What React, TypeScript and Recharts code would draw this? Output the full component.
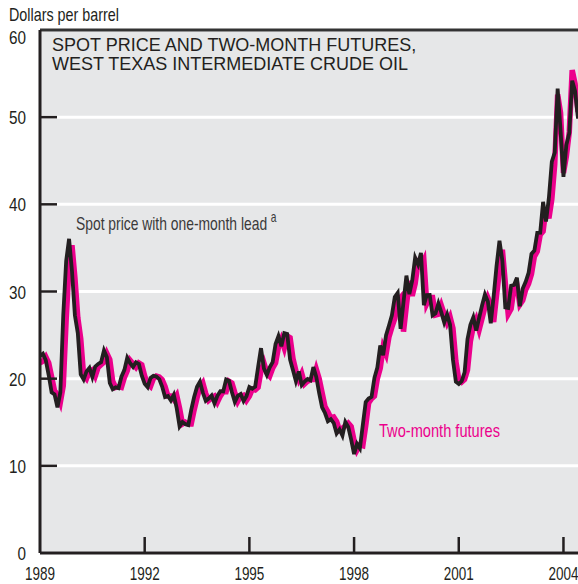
import React from 'react'
import { LineChart, Line, XAxis, YAxis, CartesianGrid, ReferenceLine } from 'recharts'

// month 0 sits on the left edge, one step per month, ticks every 3 years
const yearTicks = [0, 36, 72, 108, 144, 180]
const yearLabels = ['1989', '1992', '1995', '1998', '2001', '2004']
const valueTicks = [0, 10, 20, 30, 40, 50, 60]

// spot price with one-month lead, dollars per barrel
const spot = [
  22.6,
  22.86, 22.11, 20.39, 18.43, 18.2, 16.7, 18.45, 27.31, 33.51, 36.04, 32.33, 27.28,
  25.23, 20.48, 19.9, 20.83, 21.23, 20.19, 21.4, 21.69, 21.89, 23.23, 22.46, 19.5,
  18.79, 19.01, 18.92, 20.23, 20.98, 22.39, 21.78, 21.34, 21.88, 21.69, 20.34, 19.41,
  19.03, 20.09, 20.32, 20.25, 19.95, 19.09, 17.89, 18.01, 17.5, 18.15, 16.61, 14.52,
  15.03, 14.78, 14.68, 16.42, 17.89, 19.06, 19.65, 18.38, 17.45, 17.72, 18.07, 17.16,
  18.04, 18.57, 18.54, 19.9, 19.74, 18.45, 17.33, 18.02, 18.23, 17.43, 17.99, 19.03,
  18.85, 19.09, 21.33, 23.5, 21.17, 20.42, 21.3, 21.9, 23.97, 24.88, 23.71, 25.23,
  25.13, 22.18, 20.97, 19.7, 20.82, 19.26, 19.66, 19.95, 19.8, 21.33, 20.19, 18.33,
  16.72, 16.06, 15.12, 15.35, 14.91, 13.72, 14.17, 13.47, 15.03, 14.46, 13.0, 11.35,
  12.52, 12.01, 14.68, 17.31, 17.72, 17.92, 20.1, 21.28, 23.8, 22.69, 25.0, 26.1,
  27.26, 29.37, 29.84, 25.72, 28.79, 31.82, 29.7, 31.26, 33.88, 33.11, 34.42, 28.44,
  29.59, 29.61, 27.25, 27.49, 28.63, 27.6, 26.43, 27.37, 26.2, 22.17, 19.64, 19.39,
  19.72, 20.72, 24.53, 26.18, 27.04, 25.52, 26.97, 28.39, 29.66, 28.84, 26.35, 29.46,
  32.95, 35.83, 33.51, 28.17, 28.11, 30.66, 30.75, 31.57, 28.31, 30.34, 31.11, 32.13,
  34.31, 34.69, 36.74, 36.75, 40.28, 38.03, 40.78, 44.9, 45.94, 53.28, 48.47, 43.15,
  46.84, 48.15, 54.19, 52.98, 49.83,
]

// two-month futures
const futures = [
  21.8,
  22.0, 22.5, 21.8, 20.2, 18.6, 18.2, 17.3, 19.2, 26.8, 33.0, 35.3, 31.6,
  27.0, 24.6, 20.4, 20.0, 20.8, 21.0, 20.3, 21.3, 21.6, 21.9, 22.9, 22.2,
  19.7, 19.0, 19.1, 19.0, 20.1, 20.9, 22.1, 21.7, 21.3, 21.8, 21.6, 20.3,
  19.4, 19.1, 20.0, 20.3, 20.2, 19.9, 19.1, 18.0, 18.0, 17.6, 18.1, 16.6,
  14.8, 15.0, 14.8, 14.8, 16.4, 17.8, 19.0, 19.5, 18.3, 17.5, 17.8, 18.0,
  17.3, 18.0, 18.5, 18.5, 19.7, 19.5, 18.4, 17.4, 18.0, 18.1, 17.5, 18.0,
  18.8, 18.7, 19.0, 20.9, 21.8, 20.7, 20.3, 21.2, 21.8, 23.6, 24.5, 23.5,
  24.9, 24.7, 22.3, 20.9, 19.9, 20.6, 19.4, 19.7, 19.9, 19.9, 21.1, 20.0,
  18.4, 16.8, 16.2, 15.5, 15.6, 15.1, 14.1, 14.3, 14.6, 14.9, 14.5, 12.9,
  11.8, 12.4, 12.3, 14.6, 17.2, 17.7, 18.0, 20.0, 21.2, 23.6, 22.8, 24.8,
  25.9, 26.9, 28.9, 29.3, 25.4, 28.4, 31.2, 29.5, 30.9, 33.3, 32.9, 33.6,
  28.6, 29.3, 29.3, 27.3, 27.4, 28.4, 27.4, 26.4, 27.1, 25.8, 22.0, 19.9,
  19.6, 19.9, 21.0, 24.3, 26.0, 26.8, 25.6, 26.9, 28.2, 29.3, 28.5, 26.5,
  29.6, 32.4, 34.8, 31.0, 27.4, 28.0, 30.4, 30.7, 28.5, 29.0, 30.2, 30.9,
  32.0, 34.0, 34.6, 36.5, 36.9, 39.6, 38.4, 40.6, 44.6, 52.6, 50.5, 43.6,
  45.5, 48.3, 55.4, 53.8, 50.6,
]

const data = spot.map((v, i) => ({ month: i, spot: v, futures: futures[i] }))

const ink = '#231f20'
const pink = '#ec008c'
const font = "'Liberation Sans', Arial, Helvetica, sans-serif"
const PLOT_LEFT = 40
const PLOT_BOTTOM = 553

// squeezed sans to stand in for a condensed face
function Cond({ x, y, w, anchor = 'start', fill = ink, size = 19, children }: any) {
  return (
    <text
      x={x}
      y={y}
      textAnchor={anchor}
      fontSize={size}
      fontFamily={font}
      fill={fill}
      textLength={w}
      lengthAdjust="spacingAndGlyphs"
    >
      {children}
    </text>
  )
}

function ValueTick(props: any) {
  const { y, payload } = props
  const v = payload.value
  return (
    <g>
      <Cond x={26} y={v === 60 ? y + 14 : y + 7} anchor="end" w={v === 0 ? 8.5 : 17}>
        {v}
      </Cond>
      {v > 0 && v < 60 && (
        <line x1={PLOT_LEFT} x2={PLOT_LEFT + 17} y1={y} y2={y} stroke={ink} strokeWidth={2.5} />
      )}
    </g>
  )
}

function YearTick(props: any) {
  const { x, payload } = props
  const idx = yearTicks.indexOf(payload.value)
  return (
    <g>
      {idx > 0 && (
        <line x1={x} x2={x} y1={PLOT_BOTTOM} y2={PLOT_BOTTOM - 16} stroke={ink} strokeWidth={2.5} />
      )}
      <Cond x={x} y={580} anchor="middle" w={30}>
        {yearLabels[idx]}
      </Cond>
    </g>
  )
}

export default function App() {
  return (
    <div style={{ position: 'absolute', left: 0, top: 0, width: 578, height: 584, background: '#fff' }}>
      <LineChart width={578} height={584} data={data} margin={{ top: 30, right: 0, bottom: 0, left: 0 }}>
        <CartesianGrid vertical={false} fill="#e6e7e8" stroke="#ffffff" strokeWidth={3} />
        <XAxis
          type="number"
          dataKey="month"
          domain={[0, 185]}
          ticks={yearTicks}
          interval={0}
          height={31}
          allowDataOverflow
          axisLine={{ stroke: ink, strokeWidth: 3 }}
          tickLine={false}
          tick={<YearTick />}
        />
        <YAxis
          domain={[0, 60]}
          ticks={valueTicks}
          interval={0}
          width={40}
          axisLine={{ stroke: ink, strokeWidth: 3 }}
          tickLine={false}
          tick={<ValueTick />}
        />
        <ReferenceLine y={60} stroke="#333333" strokeWidth={3} />
        <Line
          type="linear"
          dataKey="futures"
          stroke={pink}
          strokeWidth={5.5}
          dot={false}
          isAnimationActive={false}
        />
        <Line
          type="linear"
          dataKey="spot"
          stroke={ink}
          strokeWidth={3.8}
          dot={false}
          isAnimationActive={false}
        />
      </LineChart>
      <svg
        width={578}
        height={584}
        style={{ position: 'absolute', left: 0, top: 0, pointerEvents: 'none' }}
      >
        <Cond x={9} y={21} w={110}>
          Dollars per barrel
        </Cond>
        <text x={52} y={51} fontSize={18} fontFamily={font} fill={ink}>
          SPOT PRICE AND TWO-MONTH FUTURES,
        </text>
        <text x={52} y={70} fontSize={18} fontFamily={font} fill={ink}>
          WEST TEXAS INTERMEDIATE CRUDE OIL
        </text>
        <g transform="translate(76,230) scale(0.73,1)">
          <text x={0} y={0} fontSize={19} fontFamily={font} fill="#3a3a3a">
            Spot price with one-month lead
            <tspan dx={5} dy={-8} fontSize={14}>a</tspan>
          </text>
        </g>
        <Cond x={379} y={437} w={121} fill={pink}>
          Two-month futures
        </Cond>
      </svg>
    </div>
  )
}
